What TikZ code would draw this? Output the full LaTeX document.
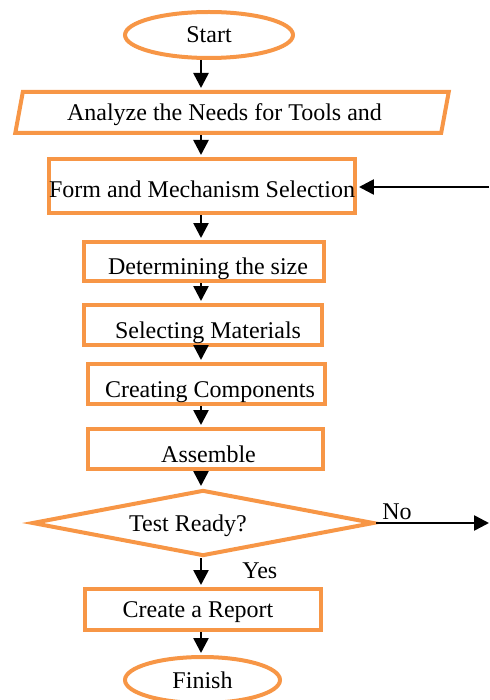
\documentclass[tikz,border=0pt]{standalone}
\usepackage{fontspec}
\setmainfont{Liberation Serif}
\usetikzlibrary{positioning,shapes.geometric,arrows.meta}
\definecolor{accent}{HTML}{F79646}

\begin{document}
\begin{tikzpicture}[x=0.5pt,y=-0.5pt,
  every node/.style={font=\fontsize{12}{14}\selectfont, inner sep=0pt, text height=11pt, text depth=3pt},
  stepbox/.style={draw=accent, line width=2pt, rectangle},
  endpoint/.style={draw=accent, line width=2pt, ellipse, minimum height=23pt},
  low/.style={text height=16pt},
  arr/.style={-{Triangle[length=7.5pt,width=7.5pt]}, line width=1.3pt, shorten >=1pt}]
  \useasboundingbox (0,0) rectangle (489,700);

  \node[endpoint, minimum width=84pt] (start) at (209,35) {Start};
  \node[draw=accent, line width=2pt, trapezium, trapezium left angle=78, trapezium right angle=102,
        trapezium stretches=true, minimum width=217pt, minimum height=20.5pt] (analyze) at (232,112.5)
        {Analyze the Needs for Tools and\hspace*{7.5pt}};
  \node[stepbox, minimum width=152pt, minimum height=27pt, text height=14.6pt] (form) at (202,186)
        {Form and Mechanism Selection};
  \node[stepbox, low, minimum width=120pt, minimum height=19.5pt] (size) at (204,261.5)
        {\hspace*{4pt}Determining the size};
  \node[stepbox, low, minimum width=119pt, minimum height=20pt] (material) at (203,325)
        {\hspace*{5pt}Selecting Materials};
  \node[stepbox, low, minimum width=118.5pt, minimum height=20pt] (component) at (206.5,384)
        {\hspace*{3.5pt}Creating Components};
  \node[stepbox, low, minimum width=117.5pt, minimum height=20pt] (assemble) at (205.5,449)
        {\hspace*{3pt}Assemble};
  \node[draw=accent, line width=2pt, diamond, aspect=5.2, minimum width=171pt, minimum height=33pt] (test) at (203,523)
        {Test Ready?\hspace*{15pt}};
  \node[stepbox, minimum width=118pt, minimum height=20.5pt] (report) at (203,609.5)
        {Create a Report\hspace*{5pt}};
  \node[endpoint, minimum width=77.5pt] (finish) at (202.5,680) {Finish};

  \node[right=3pt of test.east, yshift=6pt] (no) {No};
  \node[above right=1pt and 19.5pt of report.north] (yes) {Yes};

  \coordinate (col) at (201,0);
  \coordinate (back) at (489,187);
  \coordinate (noend) at (489,523);

  \draw[arr] (start.south -| col) -- (analyze.north -| col);
  \draw[arr] (analyze.south -| col) -- (form.north -| col);
  \draw[arr] (form.south -| col) -- (size.north -| col);
  \draw[arr] (size.south -| col) -- (material.north -| col);
  \draw[arr] (material.south -| col) -- (component.north -| col);
  \draw[arr] (component.south -| col) -- (assemble.north -| col);
  \draw[arr] (assemble.south -| col) -- (test.north -| col);
  \draw[arr] (test.south -| col) -- (report.north -| col);
  \draw[arr] (report.south -| col) -- (finish.north -| col);
  \draw[arr] (back) -- (form.east |- back);
  \draw[arr, shorten >=0pt] (test.east) -- (noend);
\end{tikzpicture}
\end{document}
